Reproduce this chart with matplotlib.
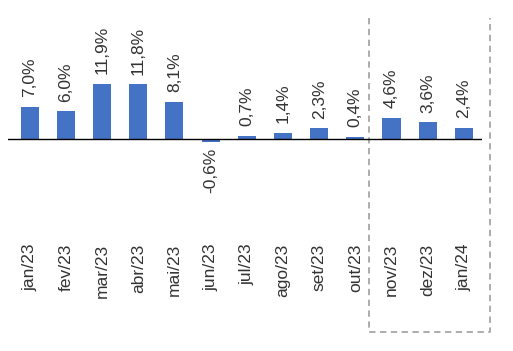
import matplotlib.pyplot as plt

# Dados do gráfico
meses = ["jan/23", "fev/23", "mar/23", "abr/23", "mai/23", "jun/23", "jul/23",
         "ago/23", "set/23", "out/23", "nov/23", "dez/23", "jan/24"]
valores = [7.0, 6.0, 11.9, 11.8, 8.1, -0.6, 0.7, 1.4, 2.3, 0.4, 4.6, 3.6, 2.4]

plt.rcParams['font.family'] = ['Liberation Sans', 'DejaVu Sans']

fig = plt.figure(figsize=(5.13, 3.51), dpi=100)
W, H = 513, 351
# axes: x de 8px a 482px, y de 0px (topo) a 220px
ax = fig.add_axes([8 / W, (H - 220) / H, 474 / W, 220 / H])

px_por_unidade = 4.62
zero_px = 139
ax.set_xlim(-0.6, 12.5)
ax.set_ylim(-(220 - zero_px) / px_por_unidade, zero_px / px_por_unidade)

x = list(range(len(meses)))
ax.bar(x, valores, width=0.5, color='#4472C4', zorder=2)
ax.axhline(0, color='#000000', linewidth=1.0, zorder=3)

cor_texto = '#333333'
# rótulos de valor
for xi, v in zip(x, valores):
    texto = f"{v:.1f}%".replace('.', ',')
    if v >= 0:
        ax.annotate(texto, (xi, v), xytext=(0, 7), textcoords='offset points',
                    rotation=90, ha='center', va='bottom', fontsize=12.5, color=cor_texto)
    else:
        ax.annotate(texto, (xi, v), xytext=(0, -4), textcoords='offset points',
                    rotation=90, ha='center', va='top', fontsize=12.5, color=cor_texto)

ax.set_xticks(x)
ax.set_xticklabels(meses, rotation=90, fontsize=12.5, color=cor_texto)
ax.tick_params(axis='x', length=0, pad=17)
ax.set_yticks([])
for s in ax.spines.values():
    s.set_visible(False)

# caixa tracejada (aberta em cima) destacando nov/23 a jan/24
y_top = (zero_px - 18) / px_por_unidade
y_bot = -(332 - zero_px) / px_por_unidade
x_left = 9.39
x_right = 12.73
ax.plot([x_left, x_left, x_right, x_right], [y_top, y_bot, y_bot, y_top],
        color='#A6A6A6', linewidth=1.3, linestyle=(0, (3.5, 2.5)),
        clip_on=False, zorder=1)

fig.savefig('out.png', dpi=100, facecolor='white')
